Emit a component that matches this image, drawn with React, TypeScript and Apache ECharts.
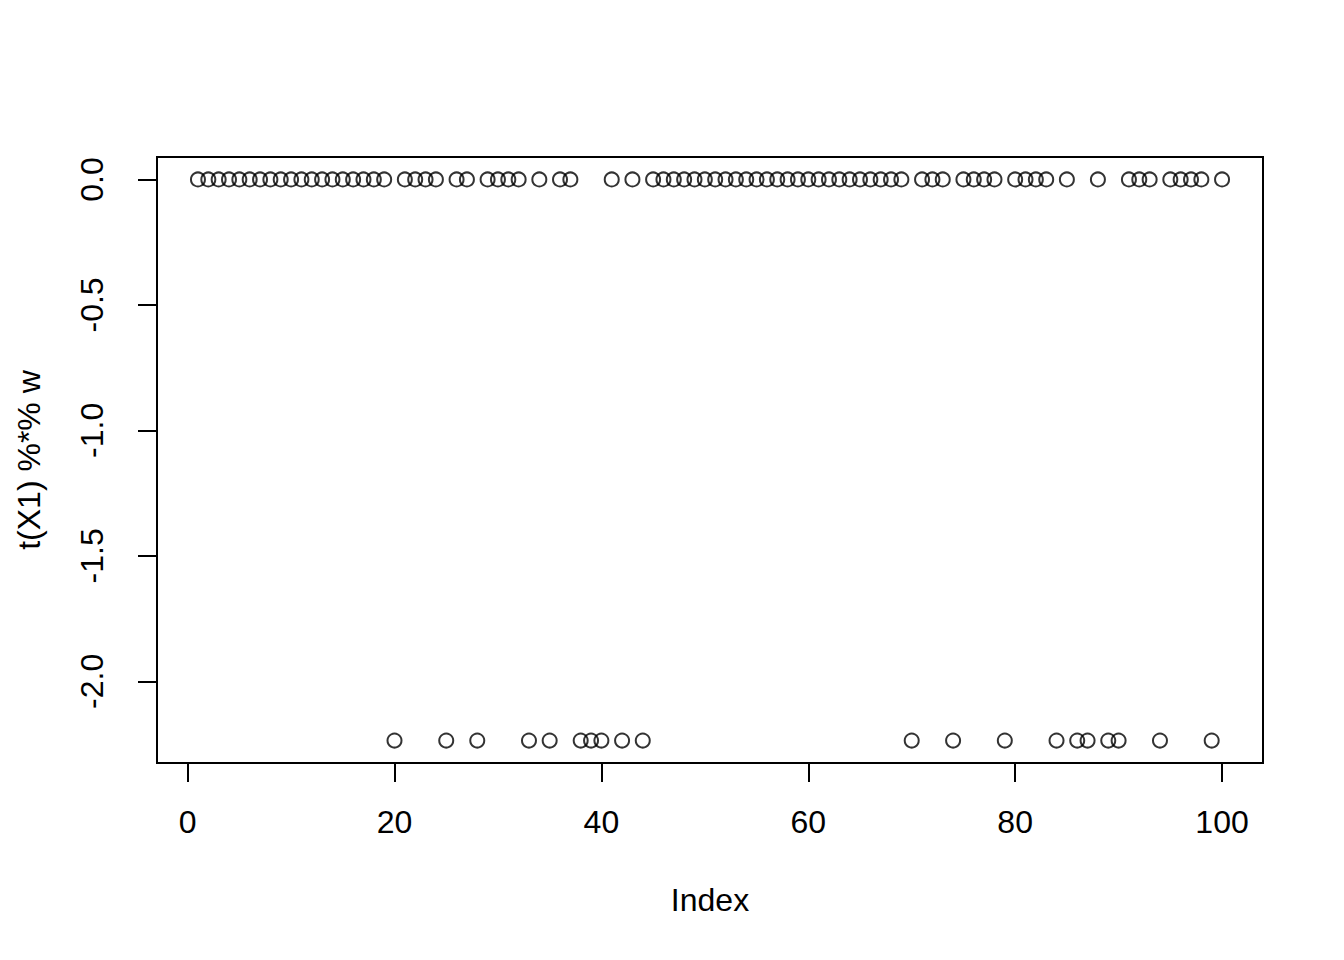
import React, { useEffect, useRef } from "react";
import * as echarts from "echarts";

// values of t(X1) %*% w, in index order 1..100
const values: number[] = [
  0, 0, 0, 0, 0, 0, 0, 0, 0, 0,
  0, 0, 0, 0, 0, 0, 0, 0, 0, -2.236,
  0, 0, 0, 0, -2.236, 0, 0, -2.236, 0, 0,
  0, 0, -2.236, 0, -2.236, 0, 0, -2.236, -2.236, -2.236,
  0, -2.236, 0, -2.236, 0, 0, 0, 0, 0, 0,
  0, 0, 0, 0, 0, 0, 0, 0, 0, 0,
  0, 0, 0, 0, 0, 0, 0, 0, 0, -2.236,
  0, 0, 0, -2.236, 0, 0, 0, 0, -2.236, 0,
  0, 0, 0, -2.236, 0, -2.236, -2.236, 0, -2.236, -2.236,
  0, 0, 0, -2.236, 0, 0, 0, 0, -2.236, 0,
];

const xTicks: number[] = [0, 20, 40, 60, 80, 100];
const yTicks: number[] = [-2, -1.5, -1, -0.5, 0];
const xTitle = "Index";
const yTitle = "t(X1) %*% w";

const FONT = "'Liberation Sans', Arial, Helvetica, sans-serif";

export default function App() {
  const ref = useRef<HTMLDivElement>(null);
  useEffect(() => {
    if (!ref.current) return;
    const chart = echarts.init(ref.current, undefined, { renderer: "svg" });
    const points = values.map((v, i) => [i + 1, v]);
    // R-style 4% range extension
    const xs = points.map((p) => p[0]);
    const xMinD = Math.min(...xs);
    const xMaxD = Math.max(...xs);
    const yMinD = Math.min(...values);
    const yMaxD = Math.max(...values);
    const xPad = (xMaxD - xMinD) * 0.04;
    const yPad = (yMaxD - yMinD) * 0.04;

    chart.setOption({
      animation: false,
      backgroundColor: "#ffffff",
      textStyle: { fontFamily: FONT },
      grid: {
        left: 157,
        top: 157,
        width: 1106,
        height: 606,
        show: true,
        borderColor: "#000",
        borderWidth: 2,
        backgroundColor: "transparent",
        containLabel: false,
      },
      xAxis: {
        type: "value",
        min: xMinD - xPad,
        max: xMaxD + xPad,
        axisLine: { show: false, onZero: false },
        splitLine: { show: false },
        axisTick: {
          show: true,
          length: 19,
          customValues: xTicks,
          lineStyle: { color: "#000", width: 2 },
        },
        axisLabel: {
          customValues: xTicks,
          margin: 43,
          fontSize: 32,
          color: "#000",
          fontFamily: FONT,
          formatter: (v: number) => String(v),
        },
        name: xTitle,
        nameLocation: "middle",
        nameGap: 121,
        nameTextStyle: { fontSize: 32, color: "#000", fontFamily: FONT },
      },
      yAxis: {
        type: "value",
        min: yMinD - yPad,
        max: yMaxD + yPad,
        axisLine: { show: false, onZero: false },
        splitLine: { show: false },
        axisTick: {
          show: true,
          length: 19,
          customValues: yTicks,
          lineStyle: { color: "#000", width: 2 },
        },
        axisLabel: {
          customValues: yTicks,
          rotate: 90,
          margin: 49,
          fontSize: 32,
          color: "#000",
          fontFamily: FONT,
          formatter: (v: number) => v.toFixed(1),
        },
        name: yTitle,
        nameLocation: "middle",
        nameGap: 112,
        nameTextStyle: { fontSize: 32, color: "#000", fontFamily: FONT },
      },
      series: [
        {
          type: "scatter",
          data: points,
          symbol: "circle",
          symbolSize: 14,
          itemStyle: {
            color: "rgba(0,0,0,0)",
            borderColor: "#000",
            borderWidth: 2,
          },
          emphasis: { disabled: true },
        },
      ],
    });
    return () => chart.dispose();
  }, []);
  return (
    <div
      ref={ref}
      style={{ position: "absolute", left: 0, top: 0, width: 1344, height: 960 }}
    />
  );
}
